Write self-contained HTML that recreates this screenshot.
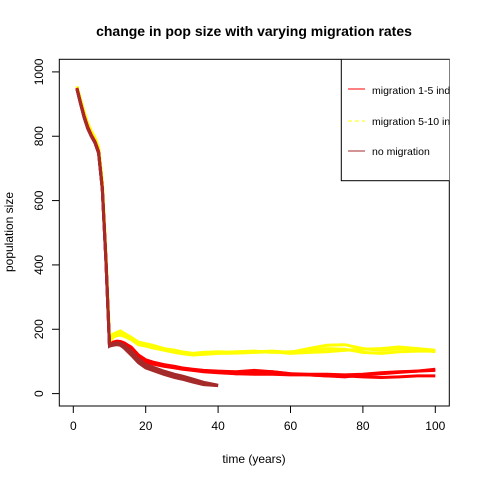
<!DOCTYPE html>
<html><head><meta charset="utf-8"><style>
html,body{margin:0;padding:0;background:#fff;}
svg text{font-family:"Liberation Sans",Arial,sans-serif;}
</style></head><body>
<svg id="chart" width="480" height="480" viewBox="0 0 480 480">
<defs><clipPath id="pc"><rect x="59.3" y="59.3" width="390" height="346.7"/></clipPath></defs>
<rect width="480" height="480" fill="#fff"/>
<text x="254" y="36" font-size="14" font-weight="bold" text-anchor="middle">change in pop size with varying migration rates</text>
<g id="series" clip-path="url(#pc)"></g>
<rect x="59.3" y="59.3" width="390" height="346.7" fill="none" stroke="#000" stroke-width="1"/>
<g id="axes"></g>
<text x="254" y="463" font-size="12" text-anchor="middle">time (years)</text>
<text transform="translate(13,232) rotate(-90)" font-size="12" text-anchor="middle">population size</text>
<g clip-path="url(#pc)">
<rect x="341.3" y="59.3" width="120" height="121.4" fill="#fff" stroke="#000"/>
<line x1="348" y1="89" x2="365" y2="89" stroke="#ff0000"/>
<text x="372" y="94" font-size="10.5">migration 1-5 individuals</text>
<line x1="348" y1="121" x2="365" y2="121" stroke="#ffff00" stroke-dasharray="4,3"/>
<text x="372" y="125" font-size="10.5">migration 5-10 individuals</text>
<line x1="348" y1="151" x2="365" y2="151" stroke="#a52a2a"/>
<text x="372" y="155" font-size="10.5">no migration</text>
</g>
</svg>
<script>
const T = [1,2,3,4,5,6,7,8,9,10,11,12,13,14,16,18,20,22,25,28,30,33,36,40,45,50,55,60,65,70,75,80,85,90,95,100];
const yellow1 = [955,915,875,840,815,795,765,660,440,175,185,190,195,188,175,160,155,150,140,135,130,125,128,130,128,130,132,128,140,150,152,140,135,140,138,130];
const yellow2 = [955,912,872,838,812,792,762,655,430,165,178,182,185,180,170,155,150,145,140,132,128,122,125,127,130,132,128,130,132,140,138,128,125,130,132,132];
const yellow3 = [952,910,870,835,810,790,760,650,425,160,175,180,182,178,168,152,148,142,135,128,124,120,122,125,126,128,130,125,128,130,135,138,140,145,140,135];
const red1 = [950,905,862,828,803,783,752,640,420,150,160,163,162,158,145,120,105,98,90,85,80,76,72,70,68,72,68,62,60,60,58,60,65,68,70,72];
const red2 = [950,905,862,828,803,783,752,640,420,150,158,160,160,155,140,115,100,95,88,82,78,74,70,68,62,60,60,58,58,55,55,52,50,52,55,55];
const red3 = [948,903,860,826,801,781,750,638,418,150,155,158,158,152,138,112,98,92,85,80,76,72,68,65,62,66,68,62,58,55,52,58,62,66,70,76];
const brown1 = [948,902,858,824,800,780,748,636,415,148,155,158,156,150,132,108,90,82,70,60,55,45,35,26];
const brown2 = [948,902,858,824,800,780,748,636,415,148,152,154,152,145,125,100,85,78,65,55,50,40,30,25];
const brown3 = [947,901,857,823,799,779,747,635,414,148,150,152,150,142,120,96,80,72,60,50,45,36,28,25];
const xTicks = [0,20,40,60,80,100];
const yTicks = [0,200,400,600,800,1000];

const NS = "http://www.w3.org/2000/svg";
function xs(t){return 73.3 + 3.62*t;}
function ys(v){return 393.6 - 0.3217*v;}
const sg = document.getElementById('series');
function drawLine(vals, color, name){
  const p = document.createElementNS(NS,'polyline');
  p.setAttribute('points', vals.map((v,i)=>xs(T[i]).toFixed(1)+','+ys(v).toFixed(1)).join(' '));
  p.setAttribute('fill','none');
  p.setAttribute('stroke',color);
  p.setAttribute('stroke-width','3');
  
  
  sg.appendChild(p);
}
drawLine(yellow1,'#ffff00','line-migration-5-10-run1');
drawLine(yellow2,'#ffff00','line-migration-5-10-run2');
drawLine(yellow3,'#ffff00','line-migration-5-10-run3');
drawLine(red1,'#ff0000','line-migration-1-5-run1');
drawLine(red2,'#ff0000','line-migration-1-5-run2');
drawLine(red3,'#ff0000','line-migration-1-5-run3');
drawLine(brown1,'#a52a2a','line-no-migration-run1');
drawLine(brown2,'#a52a2a','line-no-migration-run2');
drawLine(brown3,'#a52a2a','line-no-migration-run3');

const ag = document.getElementById('axes');
function mk(tag, attrs){const e=document.createElementNS(NS,tag);for(const k in attrs)e.setAttribute(k,attrs[k]);ag.appendChild(e);return e;}
xTicks.forEach(t=>{
  const l = mk('line',{x1:xs(t),x2:xs(t),y1:406,y2:413,stroke:'#000'});
  
  
  const tx = mk('text',{x:xs(t),y:430,'font-size':12,'text-anchor':'middle'});
  tx.textContent = t;
  
  
});
const ax = mk('line',{x1:xs(0),x2:xs(100),y1:406,y2:406,stroke:'#000'});


yTicks.forEach(v=>{
  const l = mk('line',{x1:52,x2:59.3,y1:ys(v),y2:ys(v),stroke:'#000'});
  
  
  const tx = mk('text',{transform:'translate(43,'+ys(v)+') rotate(-90)','font-size':12,'text-anchor':'middle'});
  tx.textContent = v;
  
  
});
</script>
</body></html>
